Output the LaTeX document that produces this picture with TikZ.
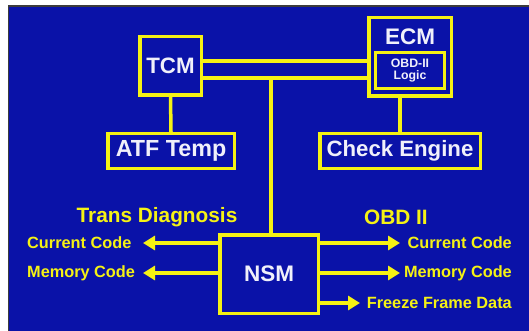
\documentclass[tikz,border=0pt]{standalone}
\usepackage{fontspec}
\setmainfont{Liberation Sans}
\usetikzlibrary{arrows.meta,calc}
\definecolor{bgblue}{RGB}{10,18,168}
\definecolor{ylw}{RGB}{245,242,20}
\definecolor{ltxt}{RGB}{240,240,250}
\definecolor{edge}{RGB}{60,60,60}
\tikzset{
  box/.style={draw=ylw, line width=3.5pt, fill=bgblue, text=ltxt, font=\bfseries, inner sep=0pt},
  bus/.style={draw=ylw, line width=3.5pt},
  arr/.style={draw=ylw, line width=3.5pt, -{Triangle[length=12pt,width=14pt]}},
  lbl/.style={text=ylw, font=\bfseries\fontsize{16.3}{18}\selectfont, inner sep=0pt},
  hdr/.style={text=ylw, font=\bfseries\fontsize{20.8}{22}\selectfont, inner sep=0pt},
}
\begin{document}
\begin{tikzpicture}[x=1pt,y=-1pt]
\useasboundingbox (0,0) rectangle (529,331);
\fill[white] (0,0) rectangle (529,331);
\fill[edge] (7.5,5.5) rectangle (529,331);
\fill[bgblue] (9,7) rectangle (529,331);
% nodes
\node[box, minimum width=61.5pt, minimum height=58.5pt, font=\bfseries\fontsize{22.3}{24}\selectfont] (tcm) at (170.5,66) {TCM};
\node[box, minimum width=82.5pt, minimum height=78.5pt] (ecm) at (410,57) {};
\node[text=ltxt, font=\bfseries\fontsize{22.5}{24}\selectfont, inner sep=0pt] (ecmt) at (410,36.5) {ECM};
\node[box, line width=3pt, minimum width=69pt, minimum height=36pt, align=center, font=\bfseries\fontsize{12.3}{12}\selectfont] (logic) at (410,70.5) {OBD-II\\Logic};
\node[box, minimum width=126.5pt, minimum height=34.5pt, font=\bfseries\fontsize{23.3}{25}\selectfont] (atf) at (171,151) {ATF Temp};
\node[box, minimum width=160.5pt, minimum height=34.5pt, font=\bfseries\fontsize{22.2}{24}\selectfont] (chk) at (400,151) {Check Engine};
\node[box, minimum width=98.5pt, minimum height=78.5pt, font=\bfseries\fontsize{22.5}{24}\selectfont] (nsm) at (269,274) {NSM};
% headers
\node[hdr] (trans) at (157,217) {Trans Diagnosis};
\node[hdr] (obd) at (396,217) {OBD II};
% labels
\node[lbl, anchor=west] (lcc) at (27,243) {Current Code};
\node[lbl, anchor=west] (lmc) at (27,273) {Memory Code};
\node[lbl, anchor=east] (rcc) at (512,243) {Current Code};
\node[lbl, anchor=east] (rmc) at (512,273) {Memory Code};
\node[lbl, anchor=east] (rff) at (512,303) {Freeze Frame Data};
% coordinates
\coordinate (lt1) at (143,243);
\coordinate (lt2) at (143,273);
\coordinate (rt1) at (400,243);
\coordinate (rt2) at (400,273);
\coordinate (rt3) at (360,303);
\coordinate (busU) at (0,61);
\coordinate (busL) at (0,78);
% connectors
\draw[bus] (tcm.east |- busU) -- (ecm.west |- busU);
\draw[bus] (tcm.east |- busL) -- (ecm.west |- busL);
\draw[bus] ([xshift=2pt]nsm.north) -- ([xshift=2pt]nsm.north |- busL);
\draw[bus] (tcm.south) -- (atf.north);
\draw[bus] (chk.north) -- (chk.north |- ecm.south);
\draw[arr] (nsm.west |- lt1) -- (lt1);
\draw[arr] (nsm.west |- lt2) -- (lt2);
\draw[arr] (nsm.east |- rt1) -- (rt1);
\draw[arr] (nsm.east |- rt2) -- (rt2);
\draw[arr] (nsm.east |- rt3) -- (rt3);
\end{tikzpicture}
\end{document}
